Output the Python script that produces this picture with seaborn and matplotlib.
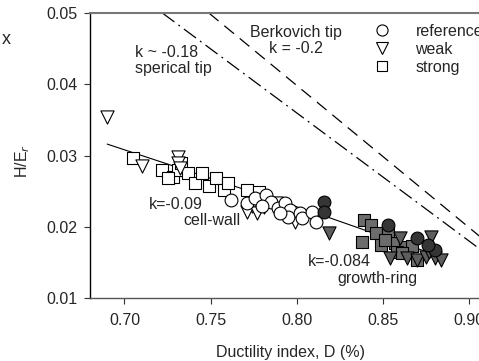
import numpy as np
import pandas as pd
import matplotlib
matplotlib.use("Agg")
import matplotlib.pyplot as plt
import seaborn as sns
from matplotlib.lines import Line2D

# open markers: cell-wall scale
cw_ref_D = [0.762, 0.771, 0.776, 0.782, 0.785, 0.789, 0.793, 0.796, 0.795, 0.802,
            0.803, 0.809, 0.811, 0.780, 0.790]
cw_ref_H = [0.0238, 0.0233, 0.0240, 0.0245, 0.0235, 0.0226, 0.0233, 0.0224, 0.0214, 0.0219,
            0.0212, 0.0221, 0.0207, 0.0229, 0.0219]
cw_weak_D = [0.690, 0.710, 0.731, 0.731, 0.732, 0.774, 0.771, 0.777, 0.781, 0.788, 0.799]
cw_weak_H = [0.0354, 0.0285, 0.0298, 0.0289, 0.0282, 0.0229, 0.0221, 0.0219, 0.0228, 0.0233, 0.0207]
cw_strong_D = [0.705, 0.722, 0.728, 0.731, 0.733, 0.737, 0.741, 0.745, 0.749, 0.753,
               0.758, 0.760, 0.771, 0.778, 0.725]
cw_strong_H = [0.0297, 0.0280, 0.0270, 0.0280, 0.0289, 0.0275, 0.0261, 0.0275, 0.0257, 0.0268,
               0.0252, 0.0261, 0.0252, 0.0249, 0.0268]

# filled markers: growth-ring scale
gr_ref_D = [0.816, 0.816, 0.853, 0.870, 0.880, 0.876]
gr_ref_H = [0.0235, 0.0221, 0.0202, 0.0184, 0.0167, 0.0174]
gr_weak_D = [0.819, 0.854, 0.864, 0.870, 0.878, 0.875, 0.880, 0.884, 0.877, 0.860]
gr_weak_H = [0.0191, 0.0156, 0.0156, 0.0153, 0.0186, 0.0158, 0.0156, 0.0153, 0.0165, 0.0184]
gr_strong_D = [0.838, 0.839, 0.843, 0.846, 0.853, 0.849, 0.857, 0.863, 0.867, 0.858,
               0.870, 0.861, 0.851]
gr_strong_H = [0.0179, 0.0209, 0.0202, 0.0191, 0.0191, 0.0174, 0.0177, 0.0172, 0.0173, 0.0165,
               0.0153, 0.0163, 0.0181]

# fitted / reference lines
cw_fit_D = [0.690, 0.815]
cw_fit_H = [0.0316, 0.0216]
gr_fit_D = [0.815, 0.880]
gr_fit_H = [0.0216, 0.0161]
berk_D = [0.749, 0.920]
berk_H = [0.050, 0.0159]
sph_D = [0.722, 0.920]
sph_H = [0.050, 0.0144]

xticks = [0.70, 0.75, 0.80, 0.85, 0.90]
yticks = [0.01, 0.02, 0.03, 0.04, 0.05]

rows = []
for sample, scale, D, H in [
    ("reference", "cell-wall", cw_ref_D, cw_ref_H),
    ("weak", "cell-wall", cw_weak_D, cw_weak_H),
    ("strong", "cell-wall", cw_strong_D, cw_strong_H),
    ("reference", "growth-ring", gr_ref_D, gr_ref_H),
    ("weak", "growth-ring", gr_weak_D, gr_weak_H),
    ("strong", "growth-ring", gr_strong_D, gr_strong_H),
]:
    for d, h in zip(D, H):
        rows.append({"D": d, "H": h, "sample": sample, "scale": scale})
df = pd.DataFrame(rows)

sns.set_theme(style="ticks")
plt.rcParams["font.family"] = ["Liberation Sans", "DejaVu Sans"]

fig = plt.figure(figsize=(4.79, 3.61), dpi=100)
ax = fig.add_axes([90 / 479, 63 / 361, 413.5 / 479, 285 / 361])

# reference tip lines
ax.plot(berk_D, berk_H, color="black", lw=0.9, linestyle=(0, (10, 6)))
ax.plot(sph_D, sph_H, color="black", lw=0.9, linestyle=(0, (12, 4, 1.5, 4)))
# fit lines
ax.plot(cw_fit_D, cw_fit_H, color="black", lw=0.8)
ax.plot(gr_fit_D, gr_fit_H, color="black", lw=0.8)

markers = {"reference": "o", "weak": "v", "strong": "s"}
sizes = {"reference": 85, "weak": 90, "strong": 70}
fills = {
    ("reference", "cell-wall"): "white",
    ("weak", "cell-wall"): "white",
    ("strong", "cell-wall"): "white",
    ("reference", "growth-ring"): "#353535",
    ("weak", "growth-ring"): "#5e5e5e",
    ("strong", "growth-ring"): "#6c6c6c",
}
for scale in ["cell-wall", "growth-ring"]:
    for sample in ["strong", "weak", "reference"]:
        sub = df[(df["sample"] == sample) & (df["scale"] == scale)]
        sns.scatterplot(data=sub, x="D", y="H", marker=markers[sample], s=sizes[sample],
                        color=fills[(sample, scale)], edgecolor="black", linewidth=0.8,
                        ax=ax, legend=False, zorder=3)

ax.set_xlim(0.68, 0.92)
ax.set_ylim(0.01, 0.05)
ax.set_xticks(xticks)
ax.set_xticklabels([f"{v:.2f}" for v in xticks])
ax.set_yticks(yticks)
ax.set_yticklabels([f"{v:.2f}" for v in yticks])
ax.tick_params(axis="both", direction="out", length=4, width=0.8, labelsize=11.5,
               color="#333333", pad=5)
ax.tick_params(axis="x", pad=7)

ax.spines["right"].set_visible(False)
ax.spines["top"].set_color("#777777")
ax.spines["top"].set_linewidth(1.5)
ax.spines["bottom"].set_color("#555555")
ax.spines["left"].set_color("black")
for s in ["left", "bottom"]:
    ax.spines[s].set_linewidth(1.0)

ax.set_xlabel("Ductility index, D (%)", fontsize=11.5)
ax.set_ylabel("H/E$_r$", fontsize=11.5)
ax.xaxis.set_label_coords(200 / 413.5, -47 / 285)
ax.yaxis.set_label_coords(-58 / 413.5, 137 / 285)

# annotations
ax.text(0.7064, 0.0433, "k ~ -0.18\nsperical tip", fontsize=11.5, ha="left", va="center",
        linespacing=1.05)
ax.text(0.7998, 0.0461, "Berkovich tip\nk = -0.2", fontsize=11.5, ha="center", va="center",
        linespacing=1.05)
ax.text(0.7139, 0.0231, "k=-0.09", fontsize=11.5, ha="left", va="center")
ax.text(0.7342, 0.0209, "cell-wall", fontsize=11.5, ha="left", va="center")
ax.text(0.8062, 0.0151, "k=-0.084", fontsize=11.5, ha="left", va="center")
ax.text(0.8236, 0.0127, "growth-ring", fontsize=11.5, ha="left", va="center")

handles = [
    Line2D([0], [0], marker="o", ls="none", mfc="white", mec="black", ms=8, mew=0.8, label="reference"),
    Line2D([0], [0], marker="v", ls="none", mfc="white", mec="black", ms=8, mew=0.8, label="weak"),
    Line2D([0], [0], marker="s", ls="none", mfc="white", mec="black", ms=7, mew=0.8, label="strong"),
]
ax.legend(handles=handles, loc="upper left", bbox_to_anchor=(374 / 479, 1 - 24 / 361),
          bbox_transform=fig.transFigure, frameon=False, fontsize=11.5, handletextpad=1.6,
          labelspacing=0.18, borderpad=0, borderaxespad=0, handlelength=1.0)

fig.text(11 / 479, 1 - 40 / 361, "x", fontsize=13, ha="right", va="center")

fig.savefig("out.png", dpi=100)
